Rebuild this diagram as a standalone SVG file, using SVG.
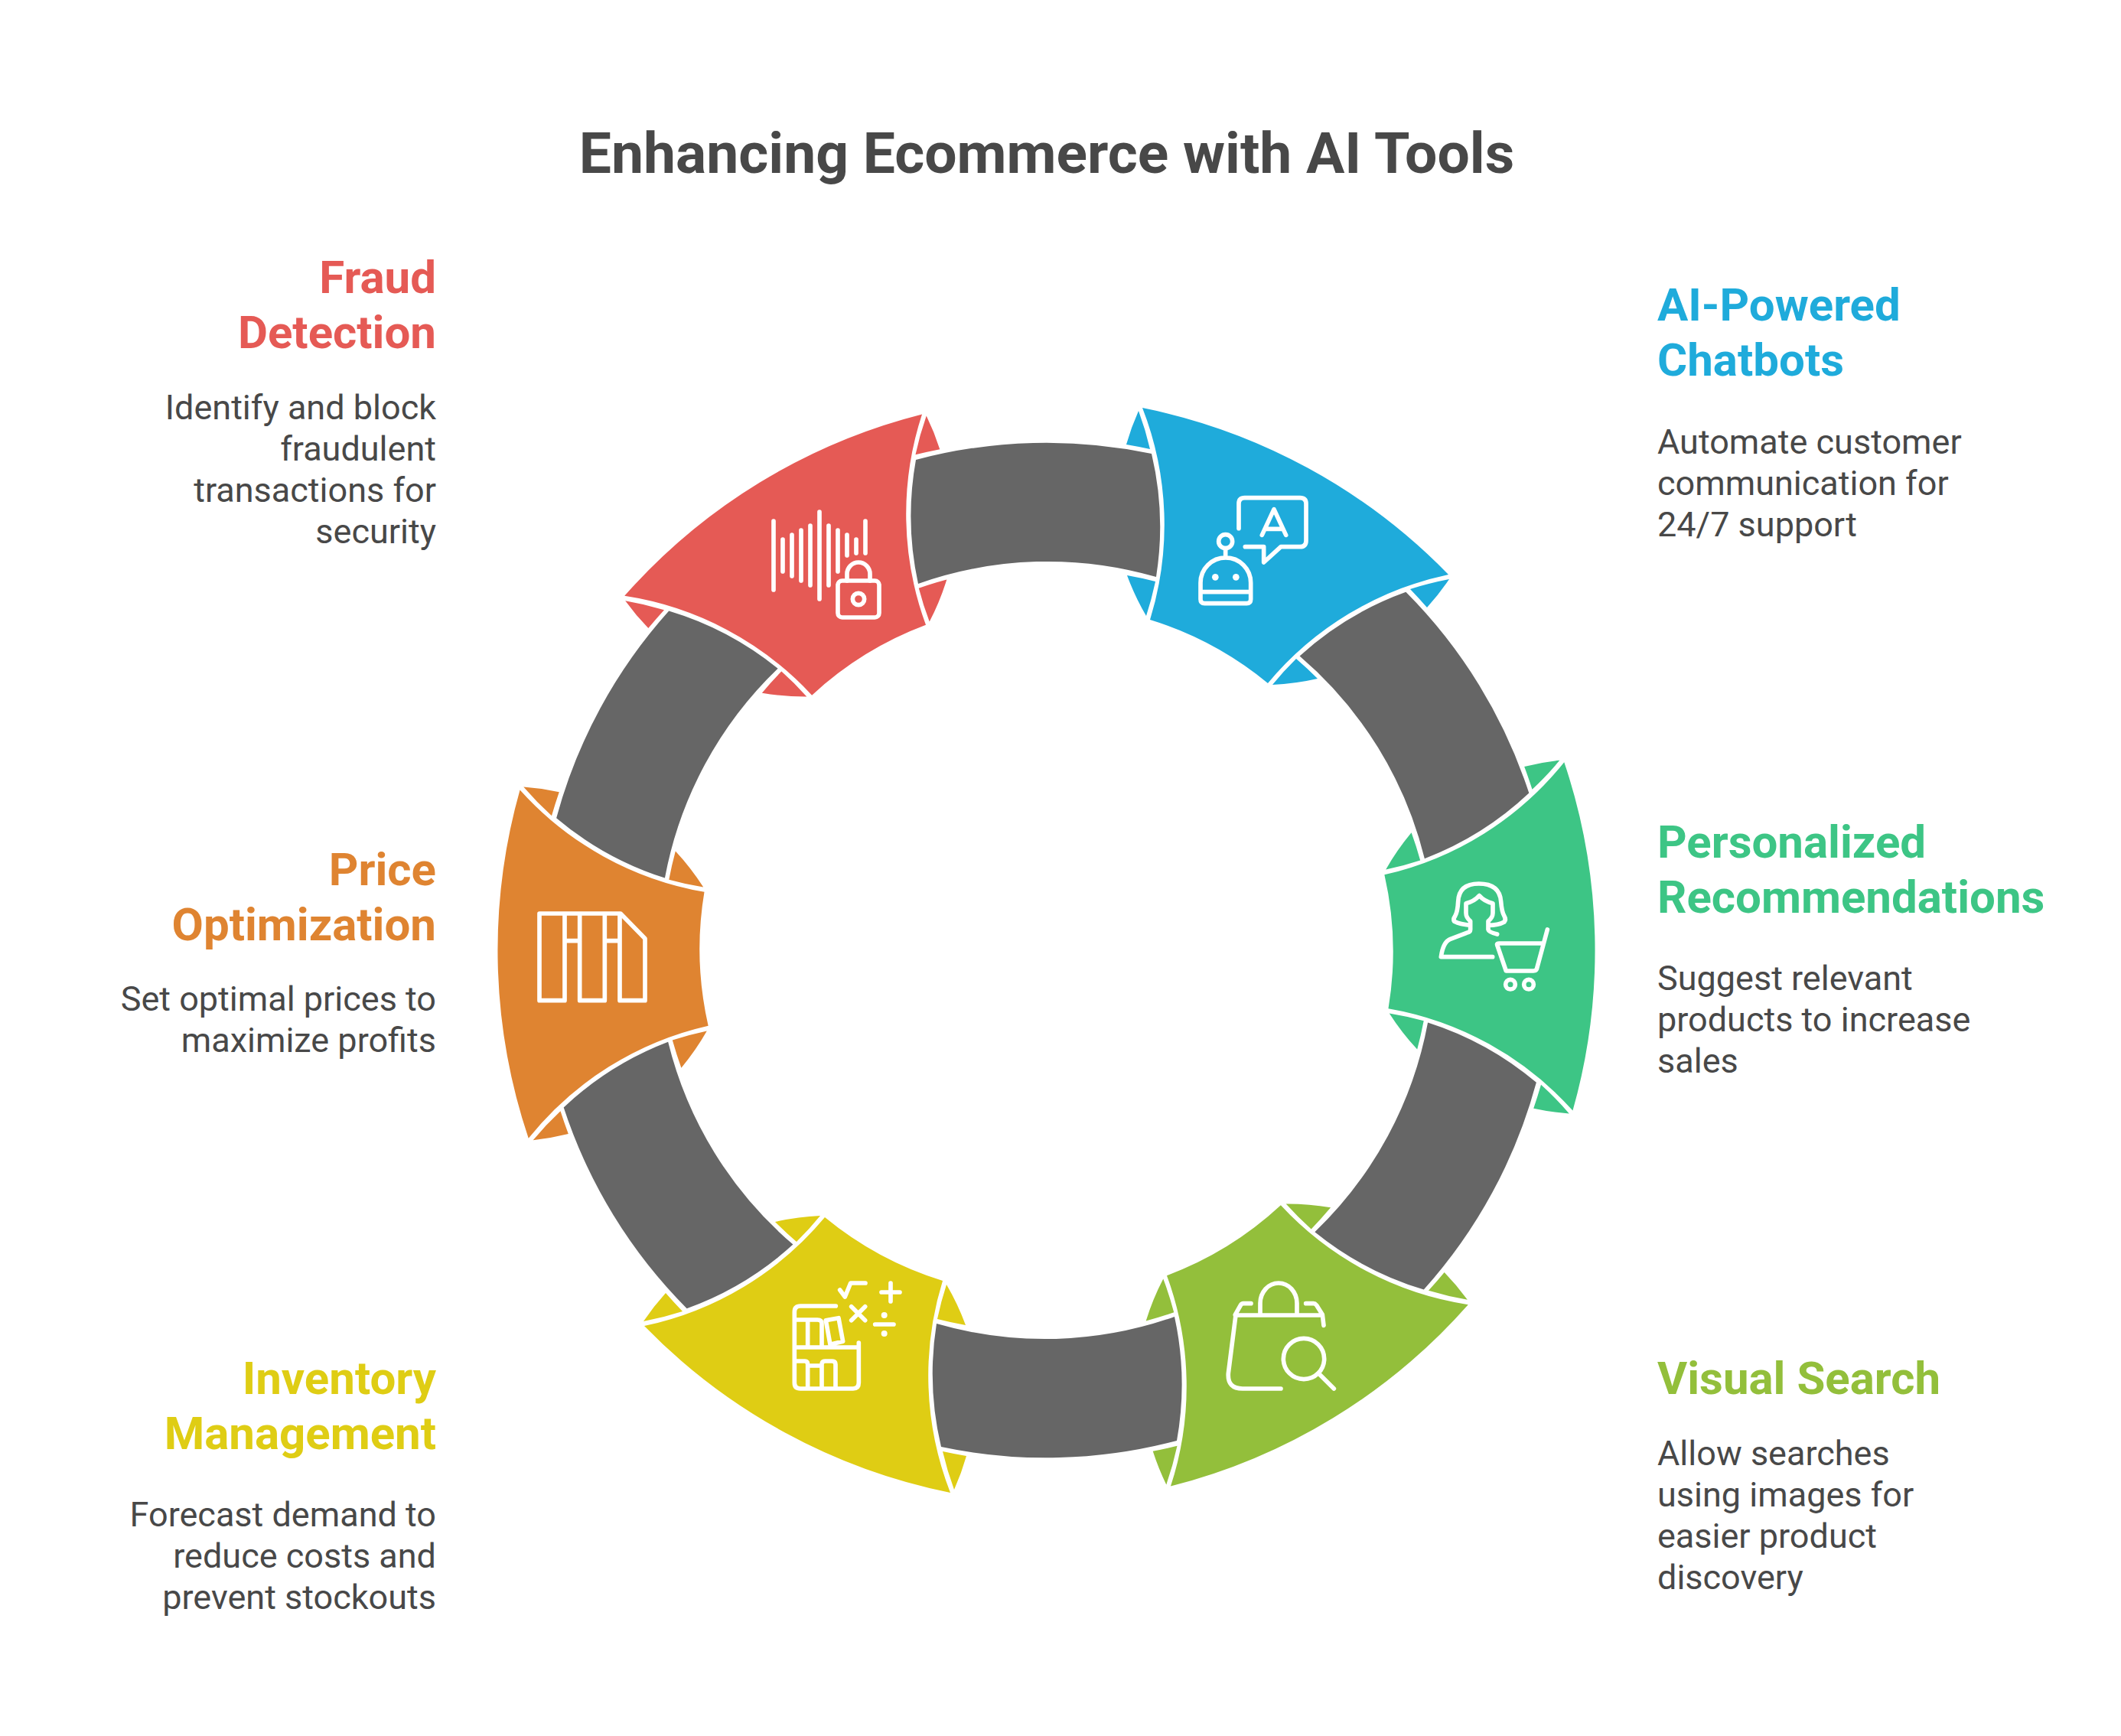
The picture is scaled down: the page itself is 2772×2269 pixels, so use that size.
<svg xmlns="http://www.w3.org/2000/svg" xmlns:xlink="http://www.w3.org/1999/xlink" width="2772" height="2269" viewBox="0 0 2772 2269">
<style>
text{font-family:Roboto,"Liberation Sans",sans-serif}
.title{font-size:75px;font-weight:700;fill:#484848;text-anchor:middle}
.h{font-size:60px;font-weight:700}
.b{font-size:45px;fill:#484848}
.l{text-anchor:end}
.icon{fill:none;stroke:#fff;stroke-width:17;stroke-linecap:round;stroke-linejoin:round}
.dot{fill:#fff;stroke:none}
</style>
<defs>
<path id="seg" d="M1493 533A770 770 0 0 1 1893 751A420 420 0 0 0 1657 893A452 452 0 0 0 1503 810A420 420 0 0 0 1493 533Z M1488 537A330 330 0 0 0 1472 581A670 670 0 0 1 1503 587A415 415 0 0 0 1488 537Z M1473 752A502 502 0 0 1 1510 760A415 415 0 0 1 1498 805A330 330 0 0 1 1473 752Z M1894 757A415 415 0 0 0 1843 770A670 670 0 0 1 1865 794A330 330 0 0 0 1894 757Z M1694 861A502 502 0 0 1 1722 887A330 330 0 0 1 1663 895A415 415 0 0 1 1694 861Z"/>
<path id="arc" fill="#666" d="M1197 601A664 664 0 0 1 1505 593A415 415 0 0 1 1511 754A508 508 0 0 0 1200 763A415 415 0 0 1 1197 601Z"/>
</defs>
<text class="title" x="1368" y="226">Enhancing Ecommerce with AI Tools</text>
<g id="connectors">
<use href="#arc"/>
<use href="#arc" transform="rotate(60 1367.5 1242)"/>
<use href="#arc" transform="rotate(120 1367.5 1242)"/>
<use href="#arc" transform="rotate(180 1367.5 1242)"/>
<use href="#arc" transform="rotate(240 1367.5 1242)"/>
<use href="#arc" transform="rotate(300 1367.5 1242)"/>
</g>
<g id="node-chatbots">
<use href="#seg" fill="#1fabdb"/>
<g transform="translate(1400 500) scale(.33333)">
<path class="icon" d="M657 572V475Q657 452 680 452H897Q921 452 921 475V620Q921 644 897 644H822L755 705V644H682M748 598L795 497L842 598M760 574H830"/>
<circle class="icon" cx="605" cy="623" r="27"/>
<path class="icon" d="M605 650V685M507 785A98 98 0 0 1 704 785V850Q704 866 688 866H523Q507 866 507 850ZM507 821H704"/>
<circle class="dot" cx="565" cy="763" r="13"/><circle class="dot" cx="646" cy="763" r="13"/>
</g>
<text class="h" fill="#1fabdb"><tspan x="2166" y="418.5">AI-Powered</tspan><tspan x="2166" y="490.5">Chatbots</tspan></text>
<text class="b"><tspan x="2166" y="593">Automate customer</tspan><tspan x="2166" y="647">communication for</tspan><tspan x="2166" y="701">24/7 support</tspan></text>
</g>
<g id="node-recommendations">
<use href="#seg" fill="#3dc585" transform="rotate(60 1367.5 1242)"/>
<g transform="translate(1780 960) scale(.33333)">
<path class="icon" d="M425 748Q385 745 362 733Q356 725 365 712Q375 695 377 655Q380 585 458 585Q540 585 545 655Q548 695 558 712Q566 725 558 735Q535 748 495 748M460 632Q440 655 408 662V700Q408 718 425 732V765Q425 775 410 778L345 803Q318 815 310 872H512M460 632Q480 655 513 662V700Q513 718 495 732V765Q497 775 530 783M727 765L685 920Q682 927 672 927H565L530 825Q528 819 538 819H708"/>
<circle class="icon" cx="582" cy="980" r="19"/><circle class="icon" cx="654" cy="980" r="19"/>
</g>
<text class="h" fill="#3dc585"><tspan x="2166" y="1120.5">Personalized</tspan><tspan x="2166" y="1192.5">Recommendations</tspan></text>
<text class="b"><tspan x="2166" y="1294">Suggest relevant</tspan><tspan x="2166" y="1348">products to increase</tspan><tspan x="2166" y="1402">sales</tspan></text>
</g>
<g id="node-visual-search">
<use href="#seg" fill="#93bf3b" transform="rotate(120 1367.5 1242)"/>
<g transform="translate(1480 1540) scale(.33333)">
<path class="icon" d="M403 537H745M405 537L376 765Q372 825 432 825H582M465 491H435Q428 491 424 498L403 535M680 491H710Q716 491 722 498L745 535L750 577M501 530V490A72 79 0 0 1 645 490V530M735 770L790 825"/>
<circle class="icon" cx="672" cy="708" r="80"/>
</g>
<text class="h" fill="#93bf3b"><tspan x="2166" y="1822">Visual Search</tspan></text>
<text class="b"><tspan x="2166" y="1915">Allow searches</tspan><tspan x="2166" y="1969">using images for</tspan><tspan x="2166" y="2023">easier product</tspan><tspan x="2166" y="2077">discovery</tspan></text>
</g>
<g id="node-inventory">
<use href="#seg" fill="#dfcd14" transform="rotate(180 1367.5 1242)"/>
<g transform="translate(820 1560) scale(.33333)">
<path class="icon" d="M817 441H678Q655 441 655 464V742Q655 765 678 765H885Q907 765 907 742V585M655 603H907M707 495V603M655 495H745Q762 495 762 510V603M778 497L828 488L845 580L795 592ZM655 657H695Q707 657 707 670V765M707 675H762M762 765V670Q762 657 775 657H802Q816 657 816 670V765M833 378L853 405L875 351H933M1032 351V423M996 387H1068M878 443L932 497M932 443L878 497M971 513H1044"/>
<circle class="dot" cx="1007" cy="477" r="12"/><circle class="dot" cx="1007" cy="549" r="12"/>
</g>
<text class="h l" fill="#dfcd14"><tspan x="570" y="1822">Inventory</tspan><tspan x="570" y="1894">Management</tspan></text>
<text class="b l"><tspan x="570" y="1995">Forecast demand to</tspan><tspan x="570" y="2049">reduce costs and</tspan><tspan x="570" y="2103">prevent stockouts</tspan></text>
</g>
<g id="node-price">
<use href="#seg" fill="#df8431" transform="rotate(240 1367.5 1242)"/>
<g transform="translate(630 1000) scale(.33333)">
<path class="icon" d="M225 582H543L639 680V923H540V582M225 582V923H324V582M383 582V923H481V582M324 689H383M481 689H540"/>
</g>
<text class="h l" fill="#df8431"><tspan x="570" y="1157">Price</tspan><tspan x="570" y="1229">Optimization</tspan></text>
<text class="b l"><tspan x="570" y="1321">Set optimal prices to</tspan><tspan x="570" y="1375">maximize profits</tspan></text>
</g>
<g id="node-fraud">
<use href="#seg" fill="#e55a55" transform="rotate(300 1367.5 1242)"/>
<g transform="translate(780 500) scale(.33333)">
<path class="icon" d="M693 543V813M729 615V741M765 597V759M801 579V777M837 561V795M873 507V849M909 561V795M945 579V741M981 597V678M1017 615V669M1053 543V669M981 777V750A45 45 0 0 1 1071 750V777"/>
<rect class="icon" x="945" y="777" width="162" height="144" rx="17"/>
<circle class="icon" cx="1026" cy="849" r="23"/>
</g>
<text class="h l" fill="#e55a55"><tspan x="570" y="383">Fraud</tspan><tspan x="570" y="455">Detection</tspan></text>
<text class="b l"><tspan x="570" y="548">Identify and block</tspan><tspan x="570" y="602">fraudulent</tspan><tspan x="570" y="656">transactions for</tspan><tspan x="570" y="710">security</tspan></text>
</g>
</svg>
